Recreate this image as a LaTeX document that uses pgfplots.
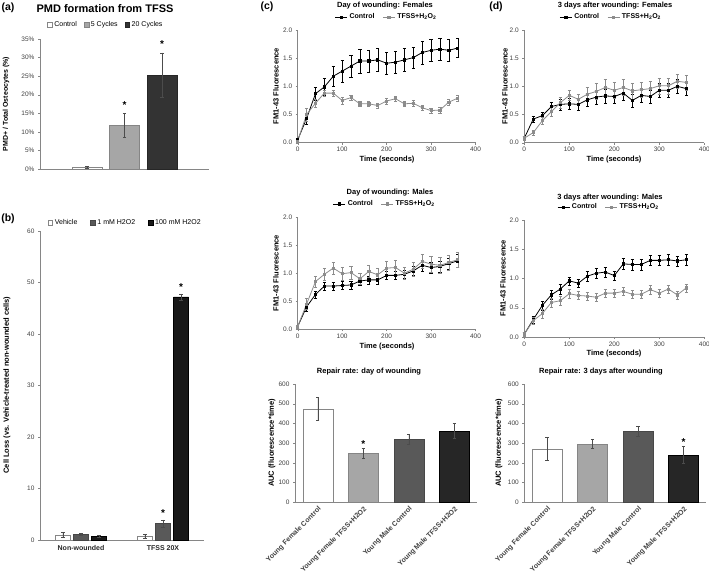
\documentclass[border=0pt]{standalone}
\usepackage{pgfplots}
\pgfplotsset{compat=1.18}
\usepackage{fontspec}
\setmainfont{Liberation Sans}
\definecolor{axgray}{RGB}{134,134,134}
\definecolor{txtgray}{RGB}{64,64,64}
\definecolor{lgray}{RGB}{166,166,166}
\definecolor{mgray}{RGB}{89,89,89}
\definecolor{dgray}{RGB}{38,38,38}
\definecolor{tgray}{RGB}{140,140,140}
\newcommand\fs[1]{\fontsize{#1}{#1}\selectfont}

\pgfplotsset{
  base/.style={scale only axis, axis lines*=left,
    axis line style={axgray, line width=0.5pt, -},
    tick align=outside, major tick length=2pt,
    tick style={axgray, line width=0.4pt},
    /pgf/number format/assume math mode=true,
    ticklabel style={font=\fs{6.5}, text=txtgray},
    clip=false},
  linechart/.style={base, xmin=0, xmax=400, ymin=0, ymax=2,
    xtick={0,100,...,400}, ytick={0,0.5,...,2},
    xticklabel style={yshift=1pt},
    yticklabel style={/pgf/number format/.cd, fixed, fixed zerofill, precision=1},
    legend style={draw=none, fill=none, font=\fs{7}\bfseries, legend columns=2,
      anchor=center, inner sep=0pt,
      /tikz/every even column/.append style={column sep=6pt}},
    legend image code/.code={\draw[mark repeat=2,mark phase=2,#1]
      plot coordinates {(0pt,0pt) (6pt,0pt) (12pt,0pt)};}},
  barchart/.style={base, xmin=-0.5, xmax=3.5, ymin=0, ymax=600,
    ytick={0,100,...,600}, xtick={0,1,2,3},
    xticklabels={Young Female Control, Young Female TFSS+H2O2, Young Male Control, Young Male TFSS+H2O2},
    xticklabel style={rotate=45, anchor=north east, inner sep=1pt, font=\fs{7}\bfseries, text=txtgray},
    xtick style={draw=none}},
  ctrl/.style={black, line width=0.8pt, mark=square*, mark size=1.1pt,
    mark options={solid, fill=black},
    error bars/.cd, y dir=both, y explicit,
    error bar style={black, line width=0.35pt},
    error mark options={rotate=90, mark size=1.6pt, black, line width=0.35pt}},
  tfss/.style={tgray, line width=0.8pt, mark=square*, mark size=1.1pt,
    mark options={solid, fill=tgray},
    error bars/.cd, y dir=both, y explicit,
    error bar style={tgray, line width=0.35pt},
    error mark options={rotate=90, mark size=1.6pt, tgray, line width=0.35pt}},
  ebar/.style={error bars/.cd, y dir=both, y explicit,
    error bar style={black!70, line width=0.35pt},
    error mark options={rotate=90, mark size=1.6pt, black!70, line width=0.35pt}}
}

\begin{document}
\begin{tikzpicture}
\useasboundingbox (0pt,0pt) rectangle (709pt,-578pt);

% ---------------- (a) ----------------
\begin{axis}[base, at={(40pt,-169pt)}, anchor=south west,
  width=169pt, height=130pt,
  xmin=-2.25, xmax=2.25, ymin=0, ymax=35,
  ytick={0,5,...,35}, xtick=\empty,
  yticklabel={\pgfmathprintnumber{\tick}\%},
  legend style={draw=none, fill=none, font=\fs{7}, legend columns=3,
    at={(0.39,1.108)}, anchor=center, inner sep=0pt,
    /tikz/every even column/.append style={column sep=5pt}},
  legend image code/.code={\draw[#1, line width=0.4pt] (0pt,-2.3pt) rectangle (4.6pt,2.3pt);}]
\addplot[ybar, bar shift=0pt, bar width=0.8, fill=white, draw=axgray, ebar]
  coordinates {(-1,0.5) +- (0,0.3)};
\addlegendentry{Control}
\addplot[ybar, bar shift=0pt, bar width=0.8, fill=lgray, draw=lgray!80!black, ebar]
  coordinates {(0,11.7) +- (0,3.2)};
\addlegendentry{5 Cycles}
\addplot[ybar, bar shift=0pt, bar width=0.8, fill=black!80, draw=black!85, ebar]
  coordinates {(1,25.3) +- (0,6.0)};
\addlegendentry{20 Cycles}
\node[font=\fs{10}\bfseries, anchor=base, inner sep=0pt] at (axis cs:0,16.3) {*};
\node[font=\fs{10}\bfseries, anchor=base, inner sep=0pt] at (axis cs:1,32.8) {*};
\end{axis}

% ---------------- (b) ----------------
\begin{axis}[base, at={(40pt,-540pt)}, anchor=south west,
  width=164pt, height=309pt,
  xmin=-0.5, xmax=1.5, ymin=0, ymax=60,
  ytick={0,10,...,60}, xtick={0,1},
  xticklabels={Non-wounded, TFSS 20X},
  xticklabel style={font=\fs{7}\bfseries, text=black!85},
  xtick style={draw=none},
  legend style={draw=none, fill=none, font=\fs{7}, legend columns=3,
    at={(0.52,1.027)}, anchor=center, inner sep=0pt,
    /tikz/every even column/.append style={column sep=11pt}},
  legend image code/.code={\draw[#1, line width=0.4pt] (0pt,-2.3pt) rectangle (4.6pt,2.3pt);}]
\addplot[ybar, bar shift=0pt, bar width=0.183, fill=white, draw=axgray, ebar]
  coordinates {(-0.22,1.0) +- (0,0.5) (0.78,0.7) +- (0,0.4)};
\addlegendentry{Vehicle}
\addplot[ybar, bar shift=0pt, bar width=0.183, fill=mgray, draw=mgray!80!black, ebar]
  coordinates {(0,1.1) +- (0,0.2) (1,3.2) +- (0,0.7)};
\addlegendentry{1 mM H2O2}
\addplot[ybar, bar shift=0pt, bar width=0.183, fill=black!90, draw=black, ebar]
  coordinates {(0.22,0.7) +- (0,0.2) (1.22,47.2) +- (0,0.6)};
\addlegendentry{100 mM H2O2}
\node[font=\fs{10}\bfseries, anchor=base, inner sep=0pt] at (axis cs:1,4.6) {*};
\node[font=\fs{10}\bfseries, anchor=base, inner sep=0pt] at (axis cs:1.22,48.4) {*};
\end{axis}

% ---------------- (c) top: day of wounding, females ----------------
\begin{axis}[linechart, at={(297.7pt,-142.7pt)}, anchor=south west,
  width=177.8pt, height=112.7pt,
  legend style={at={(0.5,1.115)}}]
\addplot[ctrl] table[x=t, y=y, y error=e] {
t y e
0 0.05 0.03
20 0.43 0.10
40 0.87 0.12
60 0.99 0.15
80 1.18 0.17
100 1.27 0.20
120 1.36 0.20
140 1.45 0.21
160 1.45 0.20
180 1.47 0.20
200 1.41 0.20
220 1.43 0.20
240 1.47 0.20
260 1.51 0.19
280 1.60 0.20
300 1.64 0.20
320 1.66 0.19
340 1.64 0.19
360 1.68 0.17
};
\addlegendentry{Control}
\addplot[tfss] table[x=t, y=y, y error=e] {
t y e
0 0.03 0.02
20 0.50 0.12
40 0.70 0.07
60 0.88 0.06
80 0.88 0.06
100 0.75 0.06
120 0.80 0.05
140 0.69 0.05
160 0.69 0.05
180 0.66 0.05
200 0.74 0.05
220 0.78 0.05
240 0.69 0.05
260 0.70 0.05
280 0.62 0.05
300 0.57 0.05
320 0.58 0.05
340 0.72 0.05
360 0.79 0.06
};
\addlegendentry{TFSS+H\textsubscript{2}O\textsubscript{2}}
\end{axis}

% ---------------- (c) middle: day of wounding, males ----------------
\begin{axis}[linechart, at={(297.7pt,-329.3pt)}, anchor=south west,
  width=177.8pt, height=112.3pt,
  legend style={at={(0.49,1.116)}}]
\addplot[ctrl] table[x=t, y=y, y error=e] {
t y e
0 0.05 0.03
20 0.40 0.07
40 0.62 0.06
60 0.77 0.07
80 0.77 0.07
100 0.78 0.07
120 0.79 0.07
140 0.86 0.07
160 0.88 0.07
180 0.88 0.07
200 0.96 0.07
220 0.96 0.07
240 0.98 0.07
260 1.04 0.08
280 1.14 0.10
300 1.10 0.10
320 1.12 0.10
340 1.17 0.10
360 1.22 0.11
};
\addlegendentry{Control}
\addplot[tfss] table[x=t, y=y, y error=e] {
t y e
0 0.05 0.03
20 0.45 0.10
40 0.85 0.10
60 0.98 0.11
80 1.09 0.11
100 0.99 0.12
120 1.01 0.12
140 0.90 0.10
160 1.03 0.11
180 0.97 0.11
200 1.09 0.13
220 1.10 0.13
240 1.00 0.11
260 1.07 0.12
280 1.21 0.13
300 1.16 0.14
320 1.14 0.14
340 1.19 0.13
360 1.24 0.13
};
\addlegendentry{TFSS+H\textsubscript{2}O\textsubscript{2}}
\end{axis}

% ---------------- (d) top: 3 days, females ----------------
\begin{axis}[linechart, at={(524.3pt,-142.7pt)}, anchor=south west,
  width=180pt, height=112.7pt,
  legend style={at={(0.483,1.115)}}]
\addplot[ctrl] table[x=t, y=y, y error=e] {
t y e
0 0.08 0.03
20 0.42 0.05
40 0.48 0.06
60 0.64 0.08
80 0.68 0.10
100 0.69 0.10
120 0.68 0.10
140 0.76 0.12
160 0.81 0.12
180 0.83 0.12
200 0.82 0.12
220 0.88 0.12
240 0.75 0.12
260 0.84 0.12
280 0.82 0.12
300 0.93 0.12
320 0.93 0.12
340 1.00 0.12
360 0.96 0.12
};
\addlegendentry{Control}
\addplot[tfss] table[x=t, y=y, y error=e] {
t y e
0 0.08 0.03
20 0.18 0.05
40 0.39 0.07
60 0.55 0.08
80 0.71 0.09
100 0.84 0.09
120 0.77 0.10
140 0.86 0.12
160 0.91 0.14
180 0.98 0.15
200 0.93 0.14
220 0.98 0.14
240 0.92 0.14
260 0.94 0.14
280 0.96 0.14
300 1.01 0.14
320 1.01 0.14
340 1.09 0.13
360 1.07 0.13
};
\addlegendentry{TFSS+H\textsubscript{2}O\textsubscript{2}}
\end{axis}

% ---------------- (d) middle: 3 days, males ----------------
\begin{axis}[linechart, at={(524.3pt,-337pt)}, anchor=south west,
  width=180pt, height=117pt,
  legend style={at={(0.47,1.11)}}]
\addplot[ctrl] table[x=t, y=y, y error=e] {
t y e
0 0.05 0.03
20 0.30 0.06
40 0.54 0.08
60 0.72 0.08
80 0.82 0.08
100 0.96 0.07
120 0.92 0.07
140 1.04 0.08
160 1.09 0.08
180 1.11 0.08
200 1.05 0.08
220 1.25 0.09
240 1.24 0.09
260 1.24 0.09
280 1.31 0.09
300 1.31 0.09
320 1.32 0.09
340 1.30 0.09
360 1.32 0.09
};
\addlegendentry{Control}
\addplot[tfss] table[x=t, y=y, y error=e] {
t y e
0 0.05 0.03
20 0.28 0.06
40 0.40 0.07
60 0.59 0.08
80 0.62 0.08
100 0.74 0.07
120 0.71 0.07
140 0.70 0.07
160 0.68 0.07
180 0.75 0.07
200 0.75 0.07
220 0.78 0.07
240 0.73 0.07
260 0.73 0.07
280 0.81 0.07
300 0.75 0.07
320 0.82 0.07
340 0.72 0.07
360 0.84 0.07
};
\addlegendentry{TFSS+H\textsubscript{2}O\textsubscript{2}}
\end{axis}

% ---------------- (c) bottom: repair rate, day of wounding ----------------
\begin{axis}[barchart, at={(295pt,-502.3pt)}, anchor=south west,
  width=182pt, height=118.3pt]
\addplot[ybar, bar shift=0pt, bar width=0.66, fill=white, draw=axgray, ebar]
  coordinates {(0,474) +- (0,57)};
\addplot[ybar, bar shift=0pt, bar width=0.66, fill=lgray, draw=lgray!80!black, ebar]
  coordinates {(1,250) +- (0,24)};
\addplot[ybar, bar shift=0pt, bar width=0.66, fill=mgray, draw=mgray!80!black, ebar]
  coordinates {(2,321) +- (0,25)};
\addplot[ybar, bar shift=0pt, bar width=0.66, fill=dgray, draw=black, ebar]
  coordinates {(3,362) +- (0,37)};
\node[font=\fs{10}\bfseries, anchor=base, inner sep=0pt] at (axis cs:1,280) {*};
\end{axis}

% ---------------- (d) bottom: repair rate, 3 days ----------------
\begin{axis}[barchart, at={(524.3pt,-502.3pt)}, anchor=south west,
  width=182pt, height=118.3pt]
\addplot[ybar, bar shift=0pt, bar width=0.66, fill=white, draw=axgray, ebar]
  coordinates {(0,270) +- (0,58)};
\addplot[ybar, bar shift=0pt, bar width=0.66, fill=lgray, draw=lgray!80!black, ebar]
  coordinates {(1,297) +- (0,24)};
\addplot[ybar, bar shift=0pt, bar width=0.66, fill=mgray, draw=mgray!80!black, ebar]
  coordinates {(2,362) +- (0,25)};
\addplot[ybar, bar shift=0pt, bar width=0.66, fill=dgray, draw=black, ebar]
  coordinates {(3,241) +- (0,42)};
\node[font=\fs{10}\bfseries, anchor=base, inner sep=0pt] at (axis cs:3,290) {*};
\end{axis}

% ---------------- texts ----------------
\begin{scope}[every node/.style={inner sep=0pt}]
\node[font=\fs{10.5}\bfseries] at (8pt,-8pt) {(a)};
\node[font=\fs{10.5}\bfseries] at (8pt,-219pt) {(b)};
\node[font=\fs{10.5}\bfseries] at (267pt,-7pt) {(c)};
\node[font=\fs{10.5}\bfseries] at (496pt,-7pt) {(d)};

\node[font=\fs{11}\bfseries] at (105pt,-9pt) {PMD formation from TFSS};
\node[font=\fs{7.5}\bfseries] at (385pt,-6pt) {Day of wounding: Females};
\node[font=\fs{7.5}\bfseries] at (390pt,-193pt) {Day of wounding: Males};
\node[font=\fs{7.5}\bfseries] at (615pt,-6pt) {3 days after wounding: Females};
\node[font=\fs{7.5}\bfseries] at (610pt,-198pt) {3 days after wounding: Males};
\node[font=\fs{7.5}\bfseries] at (369pt,-372pt) {Repair rate: day of wounding};
\node[font=\fs{7.5}\bfseries] at (601pt,-372pt) {Repair rate: 3 days after wounding};

\node[font=\fs{7.5}\bfseries] at (387pt,-160pt) {Time (seconds)};
\node[font=\fs{7.5}\bfseries] at (387pt,-347pt) {Time (seconds)};
\node[font=\fs{7.5}\bfseries] at (614pt,-160pt) {Time (seconds)};
\node[font=\fs{7.5}\bfseries] at (614pt,-354pt) {Time (seconds)};

\node[font=\fs{7}\bfseries, rotate=90] at (6pt,-104pt) {PMD+ / Total Osteocytes (\%)};
\node[font=\fs{7.5}\bfseries, rotate=90] at (7pt,-385pt) {Cell Loss (vs. Vehicle-treated non-wounded cells)};
\node[font=\fs{7.5}\bfseries, rotate=90] at (276pt,-86pt) {FM1-43 Fluorescence};
\node[font=\fs{7.5}\bfseries, rotate=90] at (276pt,-273pt) {FM1-43 Fluorescence};
\node[font=\fs{7.5}\bfseries, rotate=90] at (505pt,-86pt) {FM1-43 Fluorescence};
\node[font=\fs{7.5}\bfseries, rotate=90] at (503pt,-278pt) {FM1-43 Fluorescence};
\node[font=\fs{7.5}\bfseries, rotate=90] at (272pt,-443pt) {AUC (fluorescence*time)};
\node[font=\fs{7.5}\bfseries, rotate=90] at (499pt,-443pt) {AUC (fluorescence*time)};
\end{scope}
\end{tikzpicture}
\end{document}
